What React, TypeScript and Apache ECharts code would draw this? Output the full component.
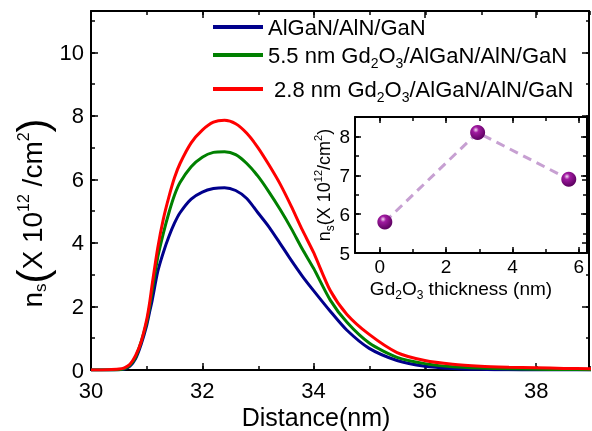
import React, { useEffect, useRef } from "react";
import * as echarts from "echarts";

const FONT = "'Liberation Sans', Arial, sans-serif";

// Main plot data
const distance = [30, 30.3, 30.5, 30.6, 30.7, 30.8, 30.9, 31.0, 31.05, 31.1, 31.2, 31.3, 31.4, 31.5, 31.6, 31.8, 32.0, 32.2, 32.4, 32.6, 32.8, 33.0, 33.2, 33.4, 33.6, 33.8, 34.0, 34.3, 34.6, 35.0, 35.5, 36.0, 36.5, 37.0, 37.5, 38.0, 38.5, 39.0];
const nsBare = [0, 0, 0.005, 0.03, 0.12, 0.35, 0.8, 1.4, 1.8, 2.2, 3.1, 3.7, 4.2, 4.62, 4.95, 5.38, 5.6, 5.71, 5.74, 5.65, 5.4, 4.95, 4.5, 3.98, 3.45, 2.95, 2.5, 1.85, 1.25, 0.68, 0.3, 0.12, 0.05, 0.02, 0.005, 0, 0, 0];
const ns55 = [0, 0, 0.008, 0.04, 0.15, 0.4, 0.88, 1.5, 1.95, 2.5, 3.55, 4.3, 4.95, 5.5, 5.9, 6.4, 6.7, 6.85, 6.87, 6.78, 6.5, 6.1, 5.6, 5.05, 4.45, 3.8, 3.2, 2.2, 1.5, 0.85, 0.4, 0.2, 0.1, 0.06, 0.04, 0.02, 0.015, 0.01];
const ns28 = [0, 0.01, 0.03, 0.07, 0.18, 0.45, 0.88, 1.58, 2.08, 2.7, 3.85, 4.75, 5.45, 6.05, 6.5, 7.15, 7.55, 7.8, 7.86, 7.75, 7.45, 7.0, 6.45, 5.85, 5.15, 4.4, 3.7, 2.5, 1.75, 1.12, 0.55, 0.3, 0.18, 0.12, 0.09, 0.07, 0.05, 0.04];
const seriesNames = ["AlGaN/AlN/GaN", "5.5 nm Gd2O3/AlGaN/AlN/GaN", "2.8 nm Gd2O3/AlGaN/AlN/GaN"];
const seriesColors = ["#00008c", "#008000", "#ff0000"];

// Main axis ranges and tick steps
const mainXRange = [30, 38.95];
const mainYRange = [0, 11.3];
const mainMajorStep = 2;
const mainMinorStep = 1;

// Inset data
const thickness = [0.15, 2.95, 5.7];
const nsInset = [5.8, 8.1, 6.9];
const insetXRange = [-0.75, 6.25];
const insetYRange = [5, 8.5];
const insetXSteps = [2, 1];
const insetYSteps = [1, 0.5];

function isMultiple(v: number, step: number) {
  const r = v / step;
  return Math.abs(r - Math.round(r)) < 1e-6;
}

function makeAxis(
  gridIndex: number,
  pos: string,
  range: number[],
  step: number,
  showLine: boolean,
  label: null | { size: number; margin: number },
  tickLen: number
) {
  return {
    type: "value",
    gridIndex,
    position: pos,
    min: range[0],
    max: range[1],
    minInterval: step,
    maxInterval: step,
    splitLine: { show: false },
    axisLine: { show: showLine, onZero: false, lineStyle: { color: "#000", width: 2 } },
    axisTick: { show: true, inside: true, length: tickLen, lineStyle: { color: "#000", width: 1.5 } },
    axisLabel: label
      ? {
          show: true,
          formatter: (v: number) => (isMultiple(v, step) ? String(Math.round(v)) : ""),
          fontSize: label.size,
          lineHeight: label.size - 2,
          fontFamily: FONT,
          color: "#000",
          margin: label.margin,
        }
      : { show: false },
  };
}

const subRich = {
  sub: { fontSize: 14, fontFamily: FONT, color: "#000", lineHeight: 14, verticalAlign: "bottom" },
};

export default function App() {
  const ref = useRef<HTMLDivElement>(null);
  useEffect(() => {
    if (!ref.current) return;
    const chart = echarts.init(ref.current, null, { renderer: "svg" });

    // grids: 0 main (major ticks), 1 main (minor ticks), 2 inset (major), 3 inset (minor)
    const xAxes = [
      makeAxis(0, "bottom", mainXRange, mainMajorStep, true, { size: 22, margin: 10 }, 7),
      makeAxis(0, "top", mainXRange, mainMajorStep, true, null, 7),
      makeAxis(1, "bottom", mainXRange, mainMinorStep, false, null, 4),
      makeAxis(1, "top", mainXRange, mainMinorStep, false, null, 4),
      makeAxis(2, "bottom", insetXRange, insetXSteps[0], true, { size: 19, margin: 5 }, 6),
      makeAxis(2, "top", insetXRange, insetXSteps[0], true, null, 6),
      makeAxis(3, "bottom", insetXRange, insetXSteps[1], false, null, 4),
      makeAxis(3, "top", insetXRange, insetXSteps[1], false, null, 4),
    ];
    const yAxes = [
      makeAxis(0, "left", mainYRange, mainMajorStep, true, { size: 22, margin: 7 }, 7),
      makeAxis(0, "right", mainYRange, mainMajorStep, true, null, 7),
      makeAxis(1, "left", mainYRange, mainMinorStep, false, null, 4),
      makeAxis(1, "right", mainYRange, mainMinorStep, false, null, 4),
      makeAxis(2, "left", insetYRange, insetYSteps[0], true, { size: 19, margin: 5 }, 6),
      makeAxis(2, "right", insetYRange, insetYSteps[0], true, null, 6),
      makeAxis(3, "left", insetYRange, insetYSteps[1], false, null, 4),
      makeAxis(3, "right", insetYRange, insetYSteps[1], false, null, 4),
    ];

    const mainSeries = seriesNames.map((name, i) => ({
      name,
      type: "line",
      xAxisIndex: 0,
      yAxisIndex: 0,
      data: distance.map((d, k) => [d, [nsBare, ns55, ns28][i][k]]),
      showSymbol: false,
      smooth: 0.25,
      lineStyle: { color: seriesColors[i], width: 3 },
      itemStyle: { color: seriesColors[i] },
    }));

    const legendTops = [12, 40, 74];
    const legends = seriesNames.map((name, i) => ({
      data: [name],
      left: 213,
      top: legendTops[i],
      padding: 0,
      icon: "rect",
      itemWidth: 50,
      itemHeight: 4,
      selectedMode: false,
      formatter: (n: string) => (i === 2 ? " " : "") + n.replace("Gd2O3", "Gd{sub|2}O{sub|3}"),
      textStyle: { fontSize: 22, fontFamily: FONT, color: "#000", lineHeight: 30, rich: subRich },
    }));

    const mainRect = { left: 91, top: 11, width: 499, height: 359 };
    const insetRect = { left: 355, top: 117, width: 232, height: 136 };

    const option: any = {
      animation: false,
      grid: [
        { ...mainRect, show: false },
        { ...mainRect, show: false },
        { ...insetRect, show: false },
        { ...insetRect, show: false },
      ],
      legend: legends,
      xAxis: xAxes,
      yAxis: yAxes,
      series: [
        ...mainSeries,
        {
          name: "inset",
          type: "line",
          xAxisIndex: 4,
          yAxisIndex: 4,
          data: thickness.map((t, k) => [t, nsInset[k]]),
          symbol: "circle",
          symbolSize: 15,
          lineStyle: { color: "#c7a0d2", width: 3, type: [9, 6] },
          itemStyle: {
            color: new echarts.graphic.RadialGradient(0.38, 0.32, 0.7, [
              { offset: 0, color: "#f4dcf4" },
              { offset: 0.28, color: "#a01aa0" },
              { offset: 1, color: "#5a005e" },
            ]),
          },
        },
      ],
      graphic: [
        {
          type: "text",
          x: 316,
          y: 417,
          style: { text: "Distance(nm)", fontSize: 25, fontFamily: FONT, fill: "#000", align: "center", verticalAlign: "middle" },
        },
        {
          type: "text",
          x: 32,
          y: 213,
          rotation: Math.PI / 2,
          style: {
            text: "n{s|s}{p|(}X 10{sup|12} /cm{sup|2}{p|)}",
            fontSize: 28,
            fontFamily: FONT,
            fill: "#000",
            align: "center",
            verticalAlign: "middle",
            lineHeight: 34,
            rich: {
              s: { fontSize: 17, fontFamily: FONT, fill: "#000", lineHeight: 17, verticalAlign: "bottom" },
              p: { fontSize: 42, fontFamily: FONT, fill: "#000", lineHeight: 34 },
              sup: { fontSize: 16, fontFamily: FONT, fill: "#000", lineHeight: 16, verticalAlign: "top" },
            },
          },
        },
        {
          type: "text",
          x: 461,
          y: 288,
          style: {
            text: "Gd{sub|2}O{sub|3} thickness (nm)",
            fontSize: 19,
            fontFamily: FONT,
            fill: "#000",
            align: "center",
            verticalAlign: "middle",
            lineHeight: 26,
            rich: { sub: { fontSize: 12, fontFamily: FONT, fill: "#000", lineHeight: 12, verticalAlign: "bottom" } },
          },
        },
        {
          type: "text",
          x: 324,
          y: 185,
          rotation: Math.PI / 2,
          style: {
            text: "n{s|s}(X 10{sup|12}/cm{sup|2})",
            fontSize: 18,
            fontFamily: FONT,
            fill: "#000",
            align: "center",
            verticalAlign: "middle",
            lineHeight: 24,
            rich: {
              s: { fontSize: 12, fontFamily: FONT, fill: "#000", lineHeight: 12, verticalAlign: "bottom" },
              sup: { fontSize: 11, fontFamily: FONT, fill: "#000", lineHeight: 11, verticalAlign: "top" },
            },
          },
        },
      ],
    };
    chart.setOption(option);
    return () => chart.dispose();
  }, []);
  return <div ref={ref} style={{ position: "fixed", left: 0, top: 0, width: 592, height: 431 }} />;
}
